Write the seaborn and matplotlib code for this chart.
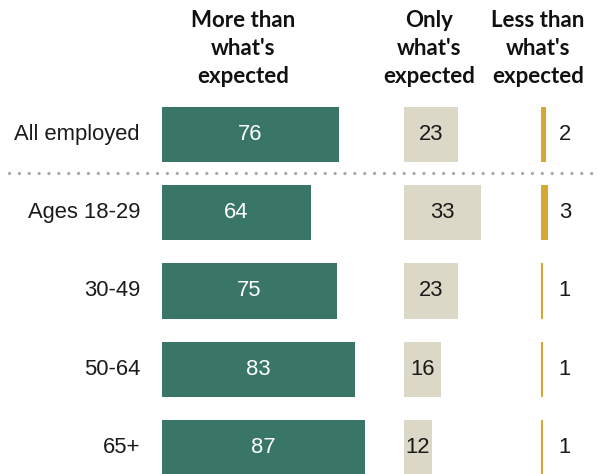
import matplotlib
matplotlib.use("Agg")
import matplotlib.pyplot as plt
from matplotlib.lines import Line2D
import seaborn as sns
import pandas as pd

# Survey shares by group
groups = ["All employed", "Ages 18-29", "30-49", "50-64", "65+"]
more_than = [76, 64, 75, 83, 87]
only_expected = [23, 33, 23, 16, 12]
less_than = [2, 3, 1, 1, 1]
headers = ["More than\nwhat's\nexpected", "Only\nwhat's\nexpected", "Less than\nwhat's\nexpected"]

GREEN = "#3a7667"
BEIGE = "#dcd8c8"
GOLD = "#d4a832"

sns.set_theme(style="white")
plt.rcParams["font.family"] = ["Liberation Sans", "DejaVu Sans"]

W, H = 598, 474
fig = plt.figure(figsize=(W / 100, H / 100), dpi=100)

PX_PER_UNIT = 2.33
ROW0, ROW_STEP = 134.5, 78.25
ylim = ((H - ROW0) / ROW_STEP, -ROW0 / ROW_STEP)

df = pd.DataFrame({"group": groups, "more": more_than,
                   "only": only_expected, "less": less_than})

# column layout: (left edge px, width px, column, colour)
columns = [
    (162, 215, "more", GREEN),
    (404, 110, "only", BEIGE),
    (541, 50, "less", GOLD),
]

axes = []
for left, width, col, colour in columns:
    ax = fig.add_axes([left / W, 0, width / W, 1])
    sns.barplot(data=df, x=col, y="group", orient="h", color=colour,
                width=0.705, linewidth=0, saturation=1, ax=ax)
    ax.set_xlim(0, width / PX_PER_UNIT)
    ax.set_ylim(*ylim)
    ax.axis("off")
    axes.append(ax)

ax_more, ax_only, ax_less = axes

FS = 15.8
for i, v in enumerate(more_than):
    ax_more.text(v / 2, i, str(v), ha="center", va="center",
                 color="white", fontsize=FS)
for i, v in enumerate(only_expected):
    ax_only.text(v / 2, i, str(v), ha="center", va="center",
                 color="#1a1a1a", fontsize=FS)
for i, v in enumerate(less_than):
    ax_less.text((565 - 541) / PX_PER_UNIT, i, str(v), ha="center",
                 va="center", color="#1a1a1a", fontsize=FS)

# group labels, right-aligned to the left of the bars
for i, g in enumerate(groups):
    y = ROW0 + i * ROW_STEP
    fig.text(140 / W, 1 - y / H, g, ha="right", va="center",
             color="#1a1a1a", fontsize=FS)

# column headers
for x, text in zip([243, 429, 538], headers):
    fig.text(x / W, 1 - 10 / H, text, ha="center", va="top",
             fontsize=16, fontweight="bold", linespacing=1.42,
             family=["Lato", "DejaVu Sans"], color="#111111")

# dotted separator under the total row
fig.add_artist(Line2D([9 / W, 1.0], [1 - 173 / H] * 2, color="#aaaaaa",
                      linewidth=2.4, linestyle=(0, (0.01, 2.95)),
                      dash_capstyle="round", transform=fig.transFigure))

fig.savefig("out.png", dpi=100)
